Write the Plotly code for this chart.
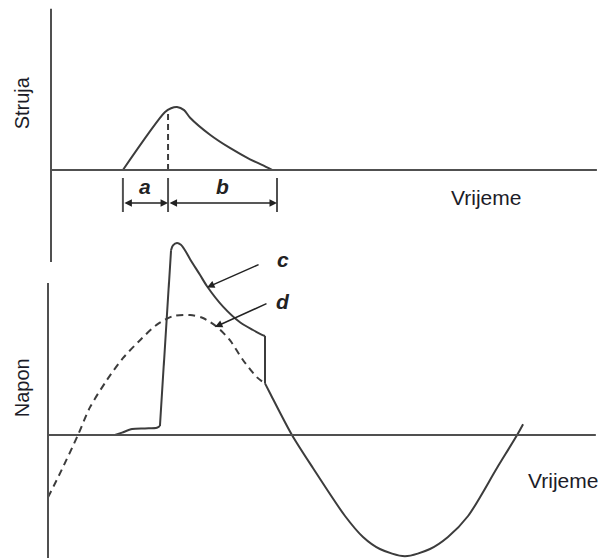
import plotly.graph_objects as go

### time in ms (origin on the voltage axis), current and voltage in per-unit
# current pulse (top panel)
i_t = [3.50, 5.47, 5.75, 6.03, 6.36, 6.64, 7.57, 8.50, 9.44, 10.00, 10.47]
i_val = [0.00, 0.92, 0.98, 1.00, 0.95, 0.83, 0.56, 0.35, 0.17, 0.08, 0.00]

# markers under the pulse: start, front end (dashed line), tail end
mark_t = [3.50, 5.61, 10.70]
mark_labels = ["a", "b"]
front_i = 0.94

# dashed curve d: system voltage (prospective)
d_t = [0.00, 0.56, 1.40, 1.96, 2.76, 3.50, 4.30, 5.09, 5.84, 6.64, 7.24, 7.90, 8.50, 9.11, 9.77, 10.14]
d_v = [-0.52, -0.32, 0.00, 0.23, 0.46, 0.64, 0.79, 0.92, 0.99, 1.00, 0.975, 0.90, 0.79, 0.625, 0.48, 0.43]

# solid curve c: voltage across the arrester, in segments
c_segments = [
    ([3.13, 3.46, 3.93, 4.53, 5.09, 5.23],
     [0.00, 0.02, 0.05, 0.055, 0.06, 0.075]),
    ([5.23, 5.75],
     [0.075, 1.54]),
    ([5.75, 5.84, 6.03, 6.21, 6.40, 6.64, 7.10, 7.43, 8.18, 8.97, 9.58, 10.00, 10.14],
     [1.54, 1.58, 1.60, 1.585, 1.54, 1.465, 1.335, 1.24, 1.07, 0.94, 0.875, 0.835, 0.825]),
    ([10.14, 10.14],
     [0.825, 0.43]),
    ([10.14, 10.37, 11.40, 12.38, 13.88, 14.72, 15.51, 16.68, 17.85, 18.69, 19.63, 20.98, 21.92, 22.20],
     [0.43, 0.35, 0.00, -0.275, -0.675, -0.85, -0.95, -1.01, -0.95, -0.85, -0.675, -0.275, 0.00, 0.09]),
]

LINE = "#3c3c3c"
AXIS = "#505050"
TXT = "#1c1c28"
FONT = "Liberation Sans, Arial, sans-serif"

fig = go.Figure()

fig.add_trace(go.Scatter(x=i_t, y=i_val, mode="lines", yaxis="y",
                         line=dict(color=LINE, width=2, shape="spline", smoothing=0.8)))
fig.add_trace(go.Scatter(x=[mark_t[1], mark_t[1]], y=[0, front_i], mode="lines", yaxis="y",
                         line=dict(color=LINE, width=2, dash="6px,4px")))

fig.add_trace(go.Scatter(x=d_t, y=d_v, mode="lines", yaxis="y2",
                         line=dict(color=LINE, width=2, dash="7px,5px", shape="spline", smoothing=0.8)))
for seg_t, seg_v in c_segments:
    fig.add_trace(go.Scatter(x=seg_t, y=seg_v, mode="lines", yaxis="y2",
                             line=dict(color=LINE, width=2, shape="spline", smoothing=0.8)))

### axes drawn as lines
shapes = [
    dict(type="line", xref="x", yref="y", x0=0.14, x1=25.65, y0=0, y1=0, line=dict(color=AXIS, width=2)),
    dict(type="line", xref="x", yref="y", x0=0.14, x1=0.14, y0=2.56, y1=-1.46, line=dict(color=AXIS, width=2)),
    dict(type="line", xref="x", yref="y2", x0=0, x1=25.6, y0=0, y1=0, line=dict(color=AXIS, width=2)),
    dict(type="line", xref="x", yref="y2", x0=0, x1=0, y0=1.267, y1=-1.03, line=dict(color=AXIS, width=2)),
]
for t in mark_t:
    shapes.append(dict(type="line", xref="x", yref="y", x0=t, x1=t, y0=-0.127, y1=-0.667,
                       line=dict(color=AXIS, width=2)))

annotations = []
for k in range(2):
    t0, t1 = mark_t[k], mark_t[k + 1]
    annotations.append(dict(x=t1, y=-0.524, ax=t0, ay=-0.524, xref="x", yref="y", axref="x", ayref="y",
                            text="", showarrow=True, arrowhead=2, arrowside="end+start",
                            arrowsize=1, arrowwidth=1.5, arrowcolor="#222", standoff=0, startstandoff=0))
    annotations.append(dict(x=(t0 + t1) / 2, y=-0.27, xref="x", yref="y", text="<b><i>%s</i></b>" % mark_labels[k],
                            showarrow=False, font=dict(family=FONT, size=21, color="#222")))

# c and d pointers
for lbl, tip, tail, pos in [("c", (7.43, 1.23), (9.91, 1.425), (10.98, 1.46)),
                            ("d", (7.80, 0.90), (10.28, 1.10), (10.98, 1.11))]:
    annotations.append(dict(x=tip[0], y=tip[1], ax=tail[0], ay=tail[1], xref="x", yref="y2",
                            axref="x", ayref="y2", text="", showarrow=True, arrowhead=2,
                            arrowsize=1, arrowwidth=1.5, arrowcolor="#222", standoff=0))
    annotations.append(dict(x=pos[0], y=pos[1], xref="x", yref="y2", text="<b><i>%s</i></b>" % lbl,
                            showarrow=False, font=dict(family=FONT, size=21, color="#222")))

annotations += [
    dict(x=-1.21, y=1.06, xref="x", yref="y", text="Struja", textangle=-90, showarrow=False,
         font=dict(family=FONT, size=20, color=TXT)),
    dict(x=-1.21, y=0.39, xref="x", yref="y2", text="Napon", textangle=-90, showarrow=False,
         font=dict(family=FONT, size=20, color=TXT)),
    dict(x=20.47, y=-0.44, xref="x", yref="y", text="Vrijeme", showarrow=False,
         font=dict(family=FONT, size=21, color=TXT)),
    dict(x=24.07, y=-0.375, xref="x", yref="y2", text="Vrijeme", showarrow=False,
         font=dict(family=FONT, size=21, color=TXT)),
]

fig.update_layout(
    width=601, height=558,
    margin=dict(t=0, l=0, r=0, b=0),
    paper_bgcolor="white", plot_bgcolor="white",
    showlegend=False,
    xaxis=dict(domain=[0, 1], range=[-2.243, 25.841], visible=False),
    yaxis=dict(domain=[0, 1], range=[-6.159, 2.698], visible=False, anchor="x"),
    yaxis2=dict(domain=[0, 1], range=[-1.025, 3.625], visible=False, anchor="x", overlaying="y"),
    shapes=shapes,
    annotations=annotations,
)

# page body has an 8px default margin; drop it so the figure sits at the corner
fig.write_html("out.html", config={"displayModeBar": False},
               post_script="document.body.style.margin='0';")
